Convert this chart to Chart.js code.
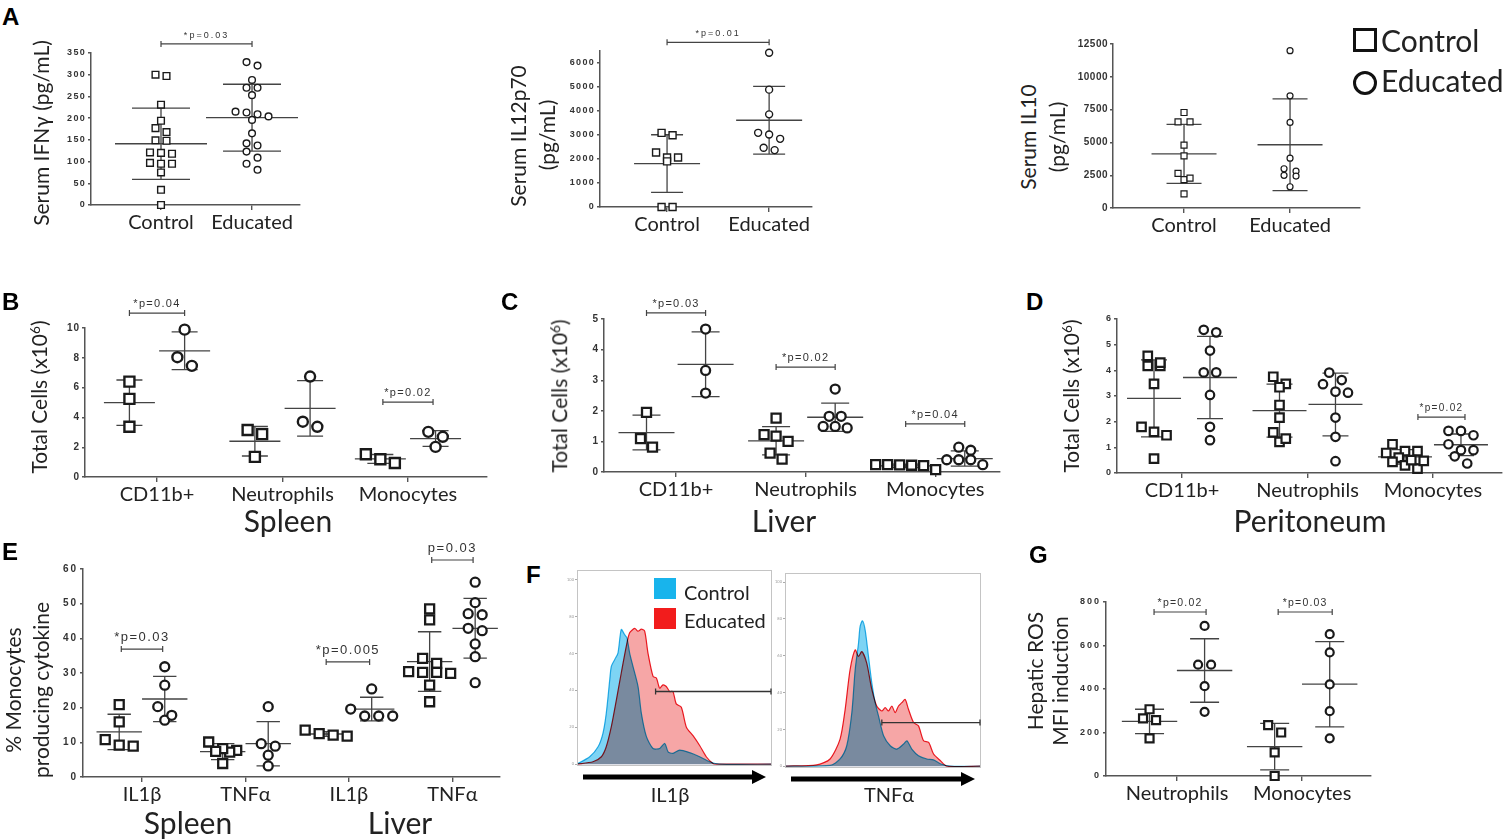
<!DOCTYPE html>
<html>
<head>
<meta charset="utf-8">
<script src="https://cdn.jsdelivr.net/npm/chart.js@4.4.0/dist/chart.umd.min.js"></script>
<style>
body{margin:0;background:#fff;width:1511px;height:839px;overflow:hidden;position:relative;font-family:Lato,sans-serif;color:#222}
canvas{position:absolute}
.t{position:absolute;white-space:nowrap;line-height:1}
.rot{position:absolute;white-space:nowrap;line-height:1;transform:translate(-50%,-50%) rotate(-90deg)}
.letter{position:absolute;font:bold 24px "Liberation Sans",Arial,sans-serif;line-height:1;color:#000}
.box{position:absolute;box-sizing:border-box}
sup{font-size:65%;vertical-align:0;position:relative;top:-0.55em}
</style>
</head>
<body>
<script>
// ---- A: serum cytokines (one group per category) ----
const aCats = ['Control', 'Educated'];
const a1Ticks = [0, 50, 100, 150, 200, 250, 300, 350];
const a1Ctrl = [300, 297, 231, 194, 177, 168, 148, 149, 120, 118, 121, 95, 95, 97, 75, 35, 0];
const a1Edu = [329, 321, 288, 270, 270, 253, 215, 209, 196, 204, 213, 165, 137, 142, 123, 109, 95, 81];
const a1Mean = [141, 201];
const a1Sd = [82, 77];

const a2Ticks = [0, 1000, 2000, 3000, 4000, 5000, 6000];
const a2Ctrl = [2990, 3090, 2270, 2060, 1900, 2060, 0, 0];
const a2Edu = [6430, 4890, 3860, 2840, 3090, 3020, 2370, 2470];
const a2Mean = [1810, 3615];
const a2Sd = [1200, 1410];

const a3Ticks = [0, 2500, 5000, 7500, 10000, 12500];
const a3Ctrl = [7280, 6570, 6570, 4790, 3980, 2640, 2160, 2280, 1070];
const a3Edu = [11990, 8550, 6520, 3800, 2810, 2430, 2990, 2490, 1620];
const a3Mean = [4130, 4820];
const a3Sd = [2250, 3500];

// ---- B, C, D: total cells (x10^6) ----
const cellCats = ['CD11b+', 'Neutrophils', 'Monocytes'];
const bTicks = [0, 2, 4, 6, 8, 10];
const bCtrl = [[6.4, 5.24, 3.37], [3.15, 2.88, 1.35], [1.53, 0.94, 1.19]];
const bEdu = [[9.89, 7.46, 8.04], [6.74, 3.37, 3.71], [3.03, 2.70, 2.02]];
const bCtrlMean = [4.99, 2.40, 1.21], bCtrlSd = [1.52, 0.99, 0.30];
const bEduMean = [8.47, 4.61, 2.58], bEduSd = [1.27, 1.86, 0.53];

const cTicks = [0, 1, 2, 3, 4, 5];
const cCtrl = [[1.95, 1.09, 0.81], [1.76, 1.17, 1.0, 1.22, 0.62, 0.42], [0.24, 0.23, 0.21, 0.08, 0.22, 0.24]];
const cEdu = [[4.67, 3.32, 2.58], [2.71, 1.82, 1.82, 1.49, 1.44, 1.49], [0.71, 0.81, 0.40, 0.24, 0.40, 0.40]];
const cCtrlMean = [1.29, 1.02, 0.20], cCtrlSd = [0.57, 0.46, 0.06];
const cEduMean = [3.52, 1.79, 0.44], cEduSd = [1.06, 0.46, 0.25];

const dTicks = [0, 1, 2, 3, 4, 5, 6];
const dCtrl = [[4.56, 4.17, 4.17, 4.30, 3.47, 1.60, 1.47, 1.80, 0.56],
               [3.47, 3.34, 3.75, 2.65, 2.16, 1.58, 1.21, 1.34],
               [1.12, 0.85, 0.78, 0.85, 0.60, 0.43, 0.17, 0.30, 0.47, 0.50]];
const dEdu = [[5.48, 5.58, 4.77, 3.92, 3.92, 3.04, 1.80, 1.28],
              [3.62, 3.91, 3.46, 3.17, 3.13, 2.16, 1.41, 0.46],
              [1.64, 1.47, 1.64, 1.12, 0.89, 0.89, 0.65, 0.37]];
const dCtrlMean = [2.91, 2.43, 0.63], dCtrlSd = [1.50, 1.03, 0.28];
const dEduMean = [3.72, 2.67, 1.10], dEduSd = [1.60, 1.22, 0.42];

// ---- E: % monocytes producing cytokine ----
const eCats = ['IL1\u03b2', 'TNF\u03b1', 'IL1\u03b2', 'TNF\u03b1'];
const eTicks = [0, 10, 20, 30, 40, 50, 60];
const eCtrl = [[20.9, 15.9, 10.8, 8.9, 9.2], [7.7, 10.1, 7.2, 8.2, 3.9, 7.4], [12.5, 11.8, 12.1, 13.5],
               [48.5, 45.3, 32.8, 34.2, 30.4, 30.2, 30.2, 29.9, 26.5, 21.7]];
const eEdu = [[31.8, 26.5, 20.3, 16.4, 17.8], [20.3, 9.6, 8.9, 6.3, 3.2], [25.4, 17.6, 17.6, 17.6, 19.6],
              [56.2, 50.3, 46.8, 47.1, 42.2, 42.9, 38.4, 34.7, 27.2]];
const eCtrlMean = [13.0, 7.3, 12.4, 33.3], eCtrlSd = [5.1, 2.3, 0.7, 8.6];
const eEduMean = [22.5, 9.6, 19.6, 42.9], eEduSd = [6.5, 6.4, 3.4, 8.6];

// ---- G: hepatic ROS ----
const gCats = ['Neutrophils', 'Monocytes'];
const gTicks = [0, 200, 400, 600, 800];
const gCtrl = [[265, 257, 307, 173], [200, 234, 109, 0]];
const gEdu = [[690, 512, 512, 413, 295], [652, 568, 421, 298, 173]];
const gCtrlMean = [251, 135], gCtrlSd = [56, 107];
const gEduMean = [485, 422], gEduSd = [146, 196];

// ---- F: histograms (channel 0-100, % of max) ----
const fTicks = [0, 20, 40, 60, 80, 100];
const fIl1bCtrlX = [0, 6.5, 10.8, 13.3, 15.0, 16.8, 17.6, 19.3, 21.0, 22.7, 24.4, 25.6, 27.0, 28.7, 31.3, 33.0, 35.6, 39.0, 42.4, 45.0, 46.7, 49.2, 52.6, 57.8, 62.9, 68.0, 73.2, 100];
const fIl1bCtrlY = [0, 4.0, 9.4, 16.7, 27.5, 45.7, 52.9, 56.5, 60.1, 72.8, 70.1, 68.3, 60.1, 52.9, 42.0, 27.5, 14.9, 8.5, 8.5, 11.2, 6.7, 5.8, 7.6, 6.2, 4.0, 1.3, 0, 0];
const fIl1bEduX = [0, 8.2, 12.5, 15.0, 17.6, 20.2, 22.7, 25.3, 27.0, 29.6, 31.3, 33.0, 34.7, 36.4, 39.0, 40.7, 42.4, 44.1, 45.8, 47.5, 49.2, 50.9, 53.5, 56.1, 59.5, 62.9, 66.3, 69.7, 71.5, 100];
const fIl1bEduY = [0, 1.3, 4.0, 9.4, 20.3, 34.8, 49.3, 63.8, 71.0, 73.4, 71.9, 73.0, 71.9, 60.1, 47.5, 46.6, 41.1, 42.9, 42.0, 39.3, 39.3, 32.6, 30.8, 20.0, 15.4, 10.1, 4.0, 0.4, 0, 0];
const fTnfaCtrlX = [0, 23.0, 28.1, 31.5, 34.1, 35.8, 37.5, 38.3, 39.5, 40.9, 42.6, 44.3, 46.0, 47.7, 50.3, 53.7, 57.1, 60.5, 62.2, 64.7, 68.1, 72.4, 75.8, 79.2, 84.3, 100];
const fTnfaCtrlY = [0, 0.4, 3.9, 11.1, 29.1, 52.4, 66.8, 75.8, 79.0, 74.0, 59.6, 45.2, 34.5, 27.3, 16.5, 11.1, 9.3, 12.0, 13.8, 9.3, 5.7, 3.9, 3.4, 1.3, 0, 0];
const fTnfaEduX = [0, 16.2, 23.0, 28.1, 30.7, 33.2, 35.8, 37.5, 39.2, 41.7, 44.3, 46.8, 49.4, 51.1, 52.8, 54.5, 56.2, 57.9, 59.6, 61.3, 63.0, 65.6, 68.1, 70.7, 73.3, 75.8, 79.2, 82.6, 100];
const fTnfaEduY = [0, 0.7, 3.9, 14.7, 30.9, 52.4, 63.2, 59.6, 62.3, 56.0, 41.7, 32.7, 30.0, 31.8, 30.0, 32.7, 29.1, 32.7, 34.5, 36.3, 30.9, 23.7, 21.9, 13.8, 12.9, 6.6, 3.1, 0, 0];
const fIl1bGate = [40.3, 39.3];   // start channel, height
const fTnfaGate = [49.4, 23.7];

Chart.defaults.font.family = 'Lato';

// rows of points whose values lie within one marker size are spread side by side (Prism-like)
function swarm(vals, pxPerUnit, size, step) {
  const idx = vals.map((v, i) => i).sort((a, b) => vals[b] - vals[a]);
  const rows = [];
  idx.forEach(i => {
    const last = rows[rows.length - 1];
    if (last && (vals[last[0]] - vals[i]) * pxPerUnit < size) last.push(i);
    else rows.push([i]);
  });
  const off = new Array(vals.length).fill(0);
  rows.forEach(r => r.forEach((i, k) => { off[i] = (k - (r.length - 1) / 2) * step; }));
  return off;
}

function pairGroups(ctrl, edu, cm, cs, em, es, off) {
  const gs = [];
  ctrl.forEach((v, i) => {
    gs.push({x: i + 1 - off, vals: v, mean: cm[i], sd: cs[i], shape: 'rect'});
    gs.push({x: i + 1 + off, vals: edu[i], mean: em[i], sd: es[i], shape: 'circle'});
  });
  return gs;
}

function scatterPanel(p) {
  const W_Y = 70, PAD_T = 44, PAD_R = 15, H_X = 45;
  const [l, t, r, b] = p.box;
  const cv = document.createElement('canvas');
  cv.width = (r - l) + W_Y + PAD_R;
  cv.height = (b - t) + PAD_T + H_X;
  cv.style.left = (l - W_Y) + 'px';
  cv.style.top = (t - PAD_T) + 'px';
  document.body.appendChild(cv);
  const yPx = (b - t) / p.ymax, xPx = (r - l) / (p.xmax - p.xmin);

  const datasets = p.groups.map(g => {
    const off = swarm(g.vals, yPx, p.size, p.step);
    const rad = g.shape === 'rect' ? p.size / Math.SQRT2 : p.size / 2;
    return {
      data: g.vals.map((v, i) => ({x: g.x + off[i] / xPx, y: v})),
      pointStyle: g.shape,
      pointRadius: rad,
      pointHoverRadius: rad,
      pointBorderWidth: p.lw,
      pointBorderColor: '#1a1a1a',
      pointBackgroundColor: '#fff',
      clip: false
    };
  });

  const marks = {
    id: 'marks',
    beforeDatasetsDraw(chart) {
      const {ctx, scales: {x, y}} = chart;
      ctx.save();
      ctx.strokeStyle = '#444';
      ctx.lineWidth = p.elw;
      p.groups.forEach(g => {
        const cx = x.getPixelForValue(g.x);
        const ym = y.getPixelForValue(g.mean);
        const yt = y.getPixelForValue(g.mean + g.sd);
        const yb = y.getPixelForValue(Math.max(g.mean - g.sd, 0));
        ctx.beginPath();
        ctx.moveTo(cx - p.meanHalf, ym); ctx.lineTo(cx + p.meanHalf, ym);
        ctx.moveTo(cx - p.sdHalf, yt); ctx.lineTo(cx + p.sdHalf, yt);
        ctx.moveTo(cx - p.sdHalf, yb); ctx.lineTo(cx + p.sdHalf, yb);
        ctx.moveTo(cx, yt); ctx.lineTo(cx, yb);
        ctx.stroke();
      });
      ctx.restore();
    },
    afterDraw(chart) {
      const {ctx, scales: {x, y}} = chart;
      ctx.save();
      ctx.strokeStyle = '#444';
      ctx.fillStyle = '#333';
      ctx.lineWidth = 1.2;
      ctx.font = p.pFont + 'px "Liberation Sans", Arial, sans-serif';
      ctx.letterSpacing = p.pSpace + 'px';
      ctx.textAlign = 'center';
      ctx.textBaseline = 'alphabetic';
      (p.brackets || []).forEach(([x1, x2, yv, txt]) => {
        const px1 = x.getPixelForValue(x1), px2 = x.getPixelForValue(x2), py = y.getPixelForValue(yv);
        ctx.beginPath();
        ctx.moveTo(px1, py); ctx.lineTo(px2, py);
        ctx.moveTo(px1, py - 3); ctx.lineTo(px1, py + 3);
        ctx.moveTo(px2, py - 3); ctx.lineTo(px2, py + 3);
        ctx.stroke();
        ctx.fillText(txt, (px1 + px2) / 2, py - p.pGap);
      });
      ctx.restore();
    },
    afterLayout(chart) {
      const s = chart.scales.y;
      if (s._spaced) return;
      s._spaced = true;
      const orig = s.drawLabels.bind(s);
      s.drawLabels = function (ca) {
        const c = this.ctx;
        c.save();
        c.letterSpacing = p.tickSpace + 'px';
        orig(ca);
        c.restore();
      };
    }
  };

  new Chart(cv, {
    type: 'scatter',
    data: {datasets},
    options: {
      responsive: false,
      animation: false,
      events: [],
      layout: {padding: {top: PAD_T, right: PAD_R, left: 0, bottom: 0}},
      plugins: {legend: {display: false}, tooltip: {enabled: false}},
      scales: {
        x: {
          type: 'linear', min: p.xmin, max: p.xmax,
          afterFit: s => { s.height = H_X; },
          afterBuildTicks: s => { s.ticks = p.cats.map((c, i) => ({value: i + 1})); },
          ticks: {
            autoSkip: false, maxRotation: 0, padding: 1,
            color: '#222', font: {family: 'Lato', size: p.xFont || 20},
            callback: v => p.cats[Math.round(v) - 1]
          },
          grid: {display: true, drawOnChartArea: false, drawTicks: true, tickLength: 5, color: '#555', lineWidth: 1.4},
          border: {display: true, color: '#555', width: 1.5}
        },
        y: {
          type: 'linear', min: 0, max: p.ymax,
          afterFit: s => { s.width = W_Y; },
          afterBuildTicks: s => { s.ticks = p.yTicks.map(v => ({value: v})); },
          ticks: {
            padding: 2, color: '#333',
            font: {family: '"Liberation Sans", Arial', size: p.tickSize, weight: 'bold'},
            callback: v => String(v)
          },
          grid: {display: true, drawOnChartArea: false, drawTicks: true, tickLength: 3, color: '#555', lineWidth: 1.4},
          border: {display: true, color: '#555', width: 1.5}
        }
      }
    },
    plugins: [marks]
  });
}

function histPanel(p) {
  const W_Y = 20, PAD_T = 6, PAD_R = 6, PAD_B = 36;
  const [l, t, r, b] = p.box;
  const cv = document.createElement('canvas');
  cv.width = (r - l) + W_Y + PAD_R;
  cv.height = (b - t) + PAD_T + PAD_B;
  cv.style.left = (l - W_Y) + 'px';
  cv.style.top = (t - PAD_T) + 'px';
  document.body.appendChild(cv);
  const pts = (xs, ys) => xs.map((v, i) => ({x: v, y: ys[i]}));

  const deco = {
    id: 'deco',
    // overlapping fills darken each other like stacked filters
    beforeDatasetsDraw(chart) {
      chart.ctx.save();
      chart.ctx.globalCompositeOperation = 'multiply';
    },
    afterDatasetsDraw(chart) {
      chart.ctx.restore();
    },
    afterDraw(chart) {
      const {ctx, chartArea: ca, scales: {x, y}} = chart;
      ctx.save();
      ctx.strokeStyle = '#c4c4c4';
      ctx.lineWidth = 1;
      ctx.strokeRect(ca.left + 0.5, ca.top + 0.5, ca.width - 1, ca.height - 1);
      // gate
      const gx = x.getPixelForValue(p.gate[0]), gy = y.getPixelForValue(p.gate[1]);
      ctx.strokeStyle = '#333';
      ctx.lineWidth = 1.3;
      ctx.beginPath();
      ctx.moveTo(gx, gy); ctx.lineTo(ca.right - 1, gy);
      ctx.moveTo(gx, gy - 3); ctx.lineTo(gx, gy + 3);
      ctx.moveTo(ca.right - 1, gy - 3); ctx.lineTo(ca.right - 1, gy + 3);
      ctx.stroke();
      // axis arrow
      const ay = ca.bottom + 11, ax0 = ca.left + 6, ax1 = ca.right - 6;
      ctx.fillStyle = '#000';
      ctx.fillRect(ax0, ay - 2.5, ax1 - ax0 - 12, 5);
      ctx.beginPath();
      ctx.moveTo(ax1, ay); ctx.lineTo(ax1 - 14, ay - 7); ctx.lineTo(ax1 - 14, ay + 7);
      ctx.closePath(); ctx.fill();
      ctx.restore();
    }
  };

  new Chart(cv, {
    type: 'line',
    data: {
      datasets: [
        {data: pts(p.eduX, p.eduY), borderColor: '#ee1c25', backgroundColor: 'rgb(246,166,166)',
         fill: 'origin', borderWidth: 1.2, pointRadius: 0, tension: 0.25, order: 2},
        {data: pts(p.ctrlX, p.ctrlY), borderColor: '#29b6e8', backgroundColor: 'rgb(125,212,244)',
         fill: 'origin', borderWidth: 1.2, pointRadius: 0, tension: 0.25, order: 1}
      ]
    },
    options: {
      responsive: false,
      animation: false,
      events: [],
      layout: {padding: {top: PAD_T, right: PAD_R, left: 0, bottom: PAD_B}},
      plugins: {legend: {display: false}, tooltip: {enabled: false}},
      scales: {
        x: {type: 'linear', min: 0, max: 100, display: false},
        y: {
          min: -1, max: 105,
          afterFit: s => { s.width = W_Y; },
          afterBuildTicks: s => { s.ticks = fTicks.map(v => ({value: v})); },
          ticks: {padding: 1, color: '#999', font: {size: 4}},
          grid: {display: true, drawOnChartArea: false, drawTicks: true, tickLength: 2, color: '#aaa'},
          border: {display: false}
        }
      }
    },
    plugins: [deco]
  });
}

// ---------- panels ----------
scatterPanel({
  box: [91, 53, 300, 205], xmin: 0.231, xmax: 2.527, ymax: 350, yTicks: a1Ticks, cats: aCats,
  groups: [{x: 1, vals: a1Ctrl, mean: a1Mean[0], sd: a1Sd[0], shape: 'rect'},
           {x: 2, vals: a1Edu, mean: a1Mean[1], sd: a1Sd[1], shape: 'circle'}],
  brackets: [[1, 2, 371, '*p=0.03']],
  size: 6.7, lw: 1.4, step: 11, meanHalf: 46, sdHalf: 29, elw: 1.3,
  tickSize: 9, tickSpace: 1.3, pFont: 9, pSpace: 2, pGap: 6
});
scatterPanel({
  box: [600, 51, 812, 207], xmin: 0.343, xmax: 2.42, ymax: 6500, yTicks: a2Ticks, cats: aCats,
  groups: [{x: 1, vals: a2Ctrl, mean: a2Mean[0], sd: a2Sd[0], shape: 'rect'},
           {x: 2, vals: a2Edu, mean: a2Mean[1], sd: a2Sd[1], shape: 'circle'}],
  brackets: [[1, 2, 6860, '*p=0.01']],
  size: 7, lw: 1.4, step: 11, meanHalf: 33, sdHalf: 16, elw: 1.3,
  tickSize: 9, tickSpace: 1.3, pFont: 9, pSpace: 2, pGap: 6
});
scatterPanel({
  box: [1113, 44, 1360, 208], xmin: 0.33, xmax: 2.66, ymax: 12500, yTicks: a3Ticks, cats: aCats,
  groups: [{x: 1, vals: a3Ctrl, mean: a3Mean[0], sd: a3Sd[0], shape: 'rect'},
           {x: 2, vals: a3Edu, mean: a3Mean[1], sd: a3Sd[1], shape: 'circle'}],
  brackets: [],
  size: 6, lw: 1.2, step: 12, meanHalf: 32.5, sdHalf: 17.5, elw: 1.3,
  tickSize: 10, tickSpace: 0.5, pFont: 9, pSpace: 2, pGap: 6
});
scatterPanel({
  box: [85, 328, 487, 477], xmin: 0.426, xmax: 3.63, ymax: 10, yTicks: bTicks, cats: cellCats,
  groups: pairGroups(bCtrl, bEdu, bCtrlMean, bCtrlSd, bEduMean, bEduSd, 0.22),
  brackets: [[0.78, 1.22, 11.0, '*p=0.04'], [2.8, 3.2, 5.03, '*p=0.02']],
  size: 10, lw: 2.4, step: 14.5, meanHalf: 25.5, sdHalf: 13, elw: 1.3,
  tickSize: 10, tickSpace: 1, pFont: 11, pSpace: 1.3, pGap: 6
});
scatterPanel({
  box: [604, 319, 1000, 472], xmin: 0.444, xmax: 3.5, ymax: 5, yTicks: cTicks, cats: cellCats,
  groups: pairGroups(cCtrl, cEdu, cCtrlMean, cCtrlSd, cEduMean, cEduSd, 0.228),
  brackets: [[0.772, 1.228, 5.2, '*p=0.03'], [1.772, 2.228, 3.43, '*p=0.02'], [2.772, 3.228, 1.57, '*p=0.04']],
  size: 9, lw: 2.3, step: 12, meanHalf: 28, sdHalf: 14, elw: 1.3,
  tickSize: 10, tickSpace: 1, pFont: 11, pSpace: 1.3, pGap: 6
});
scatterPanel({
  box: [1117, 319, 1502, 473], xmin: 0.482, xmax: 3.55, ymax: 6, yTicks: dTicks, cats: cellCats,
  groups: pairGroups(dCtrl, dEdu, dCtrlMean, dCtrlSd, dEduMean, dEduSd, 0.223),
  brackets: [[2.88, 3.255, 2.18, '*p=0.02']],
  size: 8.5, lw: 2.2, step: 12.5, meanHalf: 27, sdHalf: 13, elw: 1.3,
  tickSize: 9, tickSpace: 1, pFont: 10, pSpace: 1.3, pGap: 6
});
scatterPanel({
  box: [83, 569, 500, 777], xmin: 0.43, xmax: 4.46, ymax: 60, yTicks: eTicks, cats: eCats,
  groups: pairGroups(eCtrl, eEdu, eCtrlMean, eCtrlSd, eEduMean, eEduSd, 0.22),
  brackets: [[0.8, 1.2, 36.9, '*p=0.03'], [2.78, 3.2, 33.2, '*p=0.005'], [3.8, 4.2, 62.6, 'p=0.03']],
  size: 9, lw: 2.3, step: 14, meanHalf: 22.7, sdHalf: 11.7, elw: 1.3,
  tickSize: 10, tickSpace: 2, pFont: 13, pSpace: 1.5, pGap: 8
});
scatterPanel({
  box: [1106, 602, 1371, 776], xmin: 0.432, xmax: 2.55, ymax: 800, yTicks: gTicks, cats: gCats,
  groups: pairGroups(gCtrl, gEdu, gCtrlMean, gCtrlSd, gEduMean, gEduSd, 0.22),
  brackets: [[0.816, 1.232, 754, '*p=0.02'], [1.808, 2.24, 754, '*p=0.03']],
  size: 8, lw: 2.2, step: 13, meanHalf: 27.7, sdHalf: 14.5, elw: 1.3,
  tickSize: 9, tickSpace: 2, pFont: 10.5, pSpace: 1.2, pGap: 6
});
histPanel({box: [577, 570, 772, 766], ctrlX: fIl1bCtrlX, ctrlY: fIl1bCtrlY, eduX: fIl1bEduX, eduY: fIl1bEduY, gate: fIl1bGate});
histPanel({box: [785, 573, 981, 768], ctrlX: fTnfaCtrlX, ctrlY: fTnfaCtrlY, eduX: fTnfaEduX, eduY: fTnfaEduY, gate: fTnfaGate});

// ---------- text ----------
function label(html, left, top, size, cls, extra) {
  const d = document.createElement('div');
  d.className = cls || 't';
  d.innerHTML = html;
  d.style.left = left + 'px';
  d.style.top = top + 'px';
  if (size) d.style.fontSize = size + 'px';
  if (extra) Object.assign(d.style, extra);
  document.body.appendChild(d);
  return d;
}
const centred = {transform: 'translateX(-50%)'};

[['A', 2, 5], ['B', 2, 290], ['C', 501, 290], ['D', 1026, 290], ['E', 2, 540], ['F', 526, 563], ['G', 1029, 543]]
  .forEach(([s, x, y]) => label(s, x, y, 0, 'letter'));

label('Serum IFN\u03b3 (pg/mL)', 40, 133, 21, 'rot');
label('Serum IL12p70', 517, 136, 21, 'rot');
label('(pg/mL)', 546, 135, 21, 'rot');
label('Serum IL10', 1027, 137, 21, 'rot');
label('(pg/mL)', 1056, 137, 21, 'rot');
label('Total Cells (x10<sup>6</sup>)', 39, 397, 21, 'rot');
label('Total Cells (x10<sup>6</sup>)', 559, 396, 21, 'rot');
label('Total Cells (x10<sup>6</sup>)', 1071, 396, 21, 'rot');
label('% Monocytes', 12, 690, 21, 'rot');
label('producing  cytokine', 40, 690, 21, 'rot');
label('Hepatic ROS', 1034, 671, 21, 'rot');
label('MFI induction', 1059, 681, 21, 'rot');

label('Spleen', 288, 505, 30, 't', centred);
label('Liver', 784, 505, 30, 't', centred);
label('Peritoneum', 1310, 505, 30, 't', centred);
label('Spleen', 188, 807, 30, 't', centred);
label('Liver', 400, 807, 30, 't', centred);
label('IL1\u03b2', 670, 784, 20, 't', centred);
label('TNF\u03b1', 889, 784, 20, 't', centred);

// legend A
label('', 1353, 28, 0, 'box', {width: '24px', height: '24px', border: '3px solid #111'});
label('', 1353, 71, 0, 'box', {width: '24px', height: '24px', border: '3px solid #111', borderRadius: '50%'});
label('Control', 1381, 25, 30);
label('Educated', 1381, 65, 30);
// legend F
label('', 654, 578, 0, 'box', {width: '22px', height: '21px', background: '#18b4ec'});
label('', 654, 608, 0, 'box', {width: '22px', height: '21px', background: '#f21c1c'});
label('Control', 684, 582, 20);
label('Educated', 684, 610, 20);
</script>
</body>
</html>
